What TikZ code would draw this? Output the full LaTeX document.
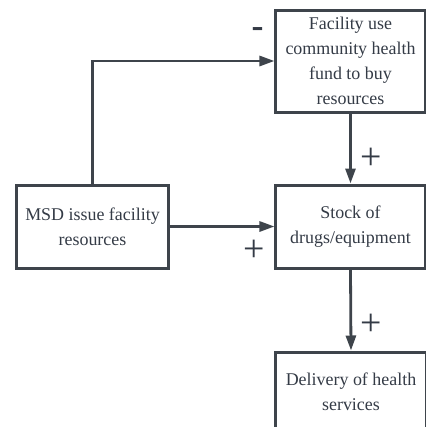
\documentclass[tikz,border=0pt]{standalone}
\usepackage{fontspec}
\setmainfont{Liberation Serif}
\usetikzlibrary{arrows.meta}
\definecolor{edge}{HTML}{3E444B}
\definecolor{ink}{HTML}{343B46}
\begin{document}
\begin{tikzpicture}[x=1bp,y=-1bp,
  box/.style={draw=edge,line width=3bp,fill=white,text=ink,align=center,
    inner sep=0pt,font=\fontsize{18}{25}\selectfont},
  link/.style={draw=edge,line width=2.8bp,
    -{Triangle[length=15bp,width=10bp]}},
  sign/.style={text=ink,inner sep=0pt,font=\fontsize{38}{38}\selectfont}]
\useasboundingbox (0,0) rectangle (426,427);
\node[box,minimum width=149bp,minimum height=102bp] (fund) at (350.5,61)
  {Facility use\\community health\\fund to buy\\resources};
\node[box,minimum width=149bp,minimum height=83bp] (stock) at (350.5,226.5)
  {Stock of\\drugs/equipment};
\node[box,minimum width=151bp,minimum height=83bp] (msd) at (92.5,226.5)
  {MSD issue facility\\resources};
\node[box,minimum width=150bp,minimum height=80bp] (deliv) at (351,392)
  {Delivery of health\\services};
\draw[link] (msd.north) |- (fund.west);
\draw[link] (msd.east) -- (stock.west);
\draw[link] (fund.south) -- (stock.north);
\draw[link] (stock.south) -- (deliv.north);
\node[sign,font=\fontsize{36}{36}\selectfont\bfseries] (neg) at (257.5,33) {-};
\node[sign] (p1) at (371.5,159) {+};
\node[sign] (p2) at (254.5,250.5) {+};
\node[sign] (p3) at (371.5,325) {+};
\end{tikzpicture}
\end{document}
